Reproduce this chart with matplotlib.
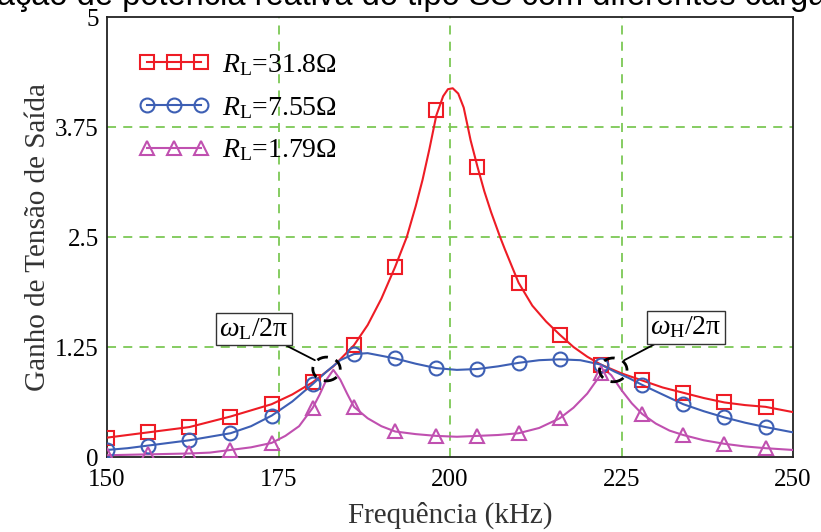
import matplotlib
matplotlib.use("Agg")
import matplotlib.pyplot as plt
from matplotlib.patches import Ellipse

# ---------------- data ----------------
# marker points (every 6 kHz)
freq_mk = [150, 156, 162, 168, 174, 180, 186, 192, 198, 204, 210, 216, 222, 228, 234, 240, 246]
red_mk = [0.22, 0.28, 0.34, 0.46, 0.60, 0.85, 1.27, 2.16, 3.94, 3.30, 1.98, 1.39, 1.05, 0.87, 0.73, 0.62, 0.57]
blue_mk = [0.08, 0.13, 0.19, 0.27, 0.47, 0.83, 1.17, 1.12, 1.01, 1.00, 1.07, 1.11, 1.05, 0.82, 0.60, 0.45, 0.34]
mag_mk = [0.02, 0.03, 0.04, 0.08, 0.16, 0.56, 0.57, 0.29, 0.24, 0.24, 0.27, 0.44, 0.96, 0.49, 0.25, 0.15, 0.10]

# curve points
red_f = [150, 153, 156, 159, 162, 165, 168, 171, 174, 177, 180, 183, 186, 188, 190, 192, 193.7,
         195, 196, 197, 198, 199, 199.7, 200.4, 201.2, 202, 202.6, 203, 204, 205, 206, 207.3, 208, 210,
         212, 214, 216, 218, 220, 222, 225, 228, 231, 234, 237, 240, 243, 246, 250]
red_v = [0.22, 0.25, 0.28, 0.31, 0.34, 0.40, 0.46, 0.53, 0.60, 0.71, 0.85, 1.03, 1.27, 1.50, 1.80, 2.16, 2.50,
         2.85, 3.15, 3.50, 3.88, 4.10, 4.18, 4.19, 4.13, 3.97, 3.75, 3.60, 3.30, 3.02, 2.78, 2.50, 2.36, 1.98,
         1.72, 1.54, 1.39, 1.25, 1.14, 1.05, 0.95, 0.87, 0.79, 0.73, 0.67, 0.62, 0.59, 0.57, 0.51]

blue_f = [150, 153, 156, 159, 162, 165, 168, 171, 174, 177, 180, 182, 184, 186, 188, 190, 192, 195,
          198, 201, 204, 207, 210, 213, 216, 219, 222, 224, 226, 228, 231, 234, 237, 240, 243, 246, 250]
blue_v = [0.08, 0.10, 0.13, 0.16, 0.19, 0.23, 0.27, 0.35, 0.47, 0.63, 0.83, 0.97, 1.10, 1.17, 1.18, 1.15, 1.12, 1.06,
          1.01, 0.99, 1.00, 1.03, 1.07, 1.10, 1.11, 1.10, 1.05, 0.97, 0.90, 0.82, 0.71, 0.60, 0.52, 0.45, 0.39, 0.34, 0.28]

mag_f = [150, 156, 162, 165, 168, 171, 174, 176, 178, 180, 181, 182, 183, 184, 185, 186, 188, 190, 192,
         195, 198, 201, 204, 207, 210, 213, 216, 218, 220, 221, 222, 222.6, 223.5, 225, 226.5, 228, 230,
         232, 234, 237, 240, 243, 246, 250]
mag_v = [0.02, 0.03, 0.04, 0.05, 0.08, 0.11, 0.16, 0.24, 0.35, 0.56, 0.71, 0.88, 0.99, 0.88, 0.72, 0.57, 0.44, 0.35, 0.29,
         0.26, 0.24, 0.23, 0.24, 0.25, 0.27, 0.33, 0.44, 0.56, 0.72, 0.83, 0.94, 0.99, 0.93, 0.76, 0.61, 0.49, 0.38,
         0.30, 0.25, 0.19, 0.15, 0.12, 0.10, 0.08]

labels = [r"$R_{\rm L}$=31.8Ω", r"$R_{\rm L}$=7.55Ω", r"$R_{\rm L}$=1.79Ω"]
xticks = [150, 175, 200, 225, 250]
yticks = [0, 1.25, 2.5, 3.75, 5]
ytick_labels = ["0", "1.25", "2.5", "3.75", "5"]

# ---------------- style ----------------
plt.rcParams["font.family"] = ["Liberation Serif", "DejaVu Serif"]
plt.rcParams["mathtext.fontset"] = "custom"
plt.rcParams["mathtext.rm"] = "Liberation Serif"
plt.rcParams["mathtext.it"] = "Liberation Serif:italic"

RED = "#ee1c25"
BLUE = "#3d5fb4"
MAG = "#c050b0"
GREEN = "#7cc855"

fig = plt.figure(figsize=(8.21, 5.32), dpi=100)
ax = fig.add_axes([107 / 821, 1 - 457 / 532, 686 / 821, 440 / 532])

series = [
    (red_f, red_v, red_mk, RED, "s", 10, labels[0]),
    (blue_f, blue_v, blue_mk, BLUE, "o", 10, labels[1]),
    (mag_f, mag_v, mag_mk, MAG, "^", 10, labels[2]),
]
handles = []
for f, v, mk, c, m, ms, lab in series:
    ax.plot(f, v, color=c, lw=1.5, zorder=3)
    ax.plot(freq_mk, mk, linestyle="none", marker=m, ms=ms, mfc="none", mec=c, mew=1.5, zorder=4)
    h, = ax.plot([], [], color=c, lw=1.5, marker=m, ms=ms, mfc="none", mec=c, mew=1.5, label=lab)
    handles.append(h)

ax.set_xlim(150, 250)
ax.set_ylim(0, 5)
ax.set_xticks(xticks)
ax.set_xticklabels([str(t) for t in xticks])
ax.set_yticks(yticks)
ax.set_yticklabels(ytick_labels)
ax.tick_params(length=0, labelsize=18)
ax.tick_params(axis="x", pad=9)
ax.tick_params(axis="y", pad=6)

for xv in xticks[1:-1]:
    ax.axvline(xv, color=GREEN, lw=1.3, ls=(0, (5, 4)), zorder=1)
for yv in yticks[1:-1]:
    ax.axhline(yv, color=GREEN, lw=1.3, ls=(0, (5, 4)), zorder=1)

for s in ax.spines.values():
    s.set_linewidth(1.3)
    s.set_color("#222222")

ax.set_xlabel("Frequência (kHz)", fontsize=21, labelpad=7, color="#333333")
ax.set_ylabel("Ganho de Tensão de Saída", fontsize=21, labelpad=3, color="#333333")

leg = ax.legend(handles=handles, loc="upper left", bbox_to_anchor=(0.03, 0.945), frameon=False,
                numpoints=3, handlelength=2.55, handletextpad=0.45, labelspacing=0.6, fontsize=20,
                borderaxespad=0)

# annotations
for (cx, cy), (tx, ty), (px, py), txt in [
    ((182.0, 1.0), (171.4, 1.455), (180.3, 1.10), r"$ω_{\rm L}$/2π"),
    ((223.8, 0.99), (234.4, 1.47), (225.4, 1.10), r"$ω_{\rm H}$/2π"),
]:
    ax.add_patch(Ellipse((cx, cy), 4.0, 0.27, fill=False, ec="black", lw=2.0,
                         ls=(0, (4, 3)), zorder=5))
    ax.annotate(txt, xy=(px, py), xytext=(tx, ty), ha="center", va="center", fontsize=20,
                bbox=dict(boxstyle="square,pad=0.12", fc="white", ec="#333333", lw=1.0),
                arrowprops=dict(arrowstyle="-", color="black", lw=1.3, shrinkA=0, shrinkB=0),
                zorder=6)

fig.text(843 / 821, 1 - 5 / 532,
         "Ganho de tensão de saída da rede de compensação de potência reativa do tipo SS com diferentes cargas",
         ha="right", va="baseline", fontsize=23.5, family=["Liberation Sans", "DejaVu Sans"], color="black")

fig.savefig("out.png", dpi=100)
